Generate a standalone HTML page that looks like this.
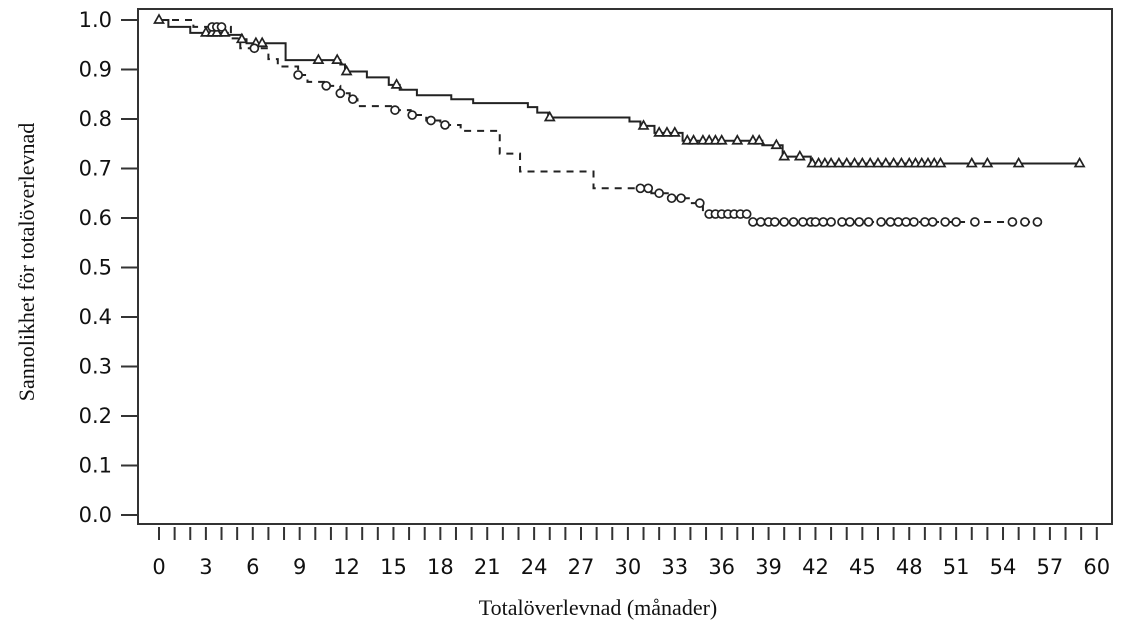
<!DOCTYPE html>
<html><head><meta charset="utf-8"><style>
html,body{margin:0;padding:0;background:#fff;}
svg{display:block}
.t{font-family:"DejaVu Sans","Liberation Sans",sans-serif;font-size:21px;fill:#111}
.s{font-family:"Liberation Serif",serif;font-size:22px;fill:#111}
</style></head><body>
<svg id="c" width="1136" height="622" viewBox="0 0 1136 622" xmlns="http://www.w3.org/2000/svg">
<rect x="138" y="9" width="974" height="515" fill="none" stroke="#333" stroke-width="2"/>
<g id="ax"></g>
<text class="s" x="598" y="615" text-anchor="middle">Totalöverlevnad (månader)</text>
<text class="s" transform="translate(34,262) rotate(-90)" text-anchor="middle">Sannolikhet för totalöverlevnad</text>
<g id="g"></g>
</svg>
<script>
var NS="http://www.w3.org/2000/svg";
function X(t){return 159+15.63*t}
function Y(s){return 515-495*s}
function el(n,a,p){var e=document.createElementNS(NS,n);for(var k in a)e.setAttribute(k,a[k]);(p||document.getElementById('g')).appendChild(e);return e}
var ax=document.getElementById('ax');
for(var i=0;i<=10;i++){var v=i/10,y=Y(v);
 el('line',{x1:121,x2:138,y1:y,y2:y,stroke:'#333','stroke-width':2},ax);
 var tx=el('text',{x:112,y:y+7,'text-anchor':'end','class':'t'},ax);tx.textContent=v.toFixed(1);}
for(var m=0;m<=60;m++){var x=X(m);
 el('line',{x1:x,x2:x,y1:527,y2:540,stroke:'#333','stroke-width':2},ax);
 if(m%3==0){var tx=el('text',{x:x,y:574,'text-anchor':'middle','class':'t'},ax);tx.textContent=m;}}
function path(st){var d='M'+X(0)+','+Y(1);
 for(var i=0;i<st.length;i++){d+=' H'+X(st[i][0])+' V'+Y(st[i][1]);}return d}
var S=[[0.6,0.986],[2,0.974],[4.4,0.97],[5.3,0.961],[5.6,0.953],[8.1,0.919],[11.6,0.91],[11.9,0.896],[13.3,0.884],[14.7,0.869],[15.4,0.859],[16.5,0.848],[18.7,0.84],[20.1,0.832],[23.6,0.824],[24.2,0.813],[24.9,0.803],[30.1,0.795],[30.8,0.786],[31.7,0.772],[33.5,0.756],[38.6,0.747],[39.9,0.724],[41.7,0.71]];
var D=[[2.2,0.986],[4.6,0.963],[5.2,0.943],[7,0.921],[7.6,0.906],[8.9,0.889],[9.5,0.875],[10.7,0.867],[11.6,0.852],[12.2,0.84],[12.7,0.826],[15,0.818],[16.1,0.808],[17.1,0.797],[18,0.788],[19.3,0.776],[21.8,0.73],[23.1,0.694],[27.8,0.66],[31.5,0.65],[32.7,0.64],[34,0.63],[34.8,0.608],[37.8,0.592]];
el('path',{d:path(S)+' H'+X(58.9),fill:'none',stroke:'#222','stroke-width':2});
el('path',{d:path(D)+' H'+X(56.2),fill:'none',stroke:'#222','stroke-width':2,'stroke-dasharray':'7,6'});
function val(st,t){var v=1;for(var i=0;i<st.length;i++)if(st[i][0]<=t)v=st[i][1];return v}
var ts=[0,3,3.4,3.7,4.2,5.3,6.2,6.6,10.2,11.4,12,15.2,25,31,32,32.5,33,33.8,34.2,34.8,35.2,35.6,36,37,38,38.4,39.5,40,41,41.8,42.2,42.6,43,43.5,44,44.5,45,45.5,46,46.5,47,47.5,48,48.4,48.8,49.2,49.6,50,52,53,55,58.9];
ts.forEach(function(t){var x=X(t),y=Y(val(S,t));
 el('path',{d:'M'+(x-4.5)+','+(y+3)+' L'+x+','+(y-5)+' L'+(x+4.5)+','+(y+3)+'Z',fill:'#fff',stroke:'#222','stroke-width':1.7});});
var tc=[3.4,3.7,4,6.1,8.9,10.7,11.6,12.4,15.1,16.2,17.4,18.3,30.8,31.3,32,32.8,33.4,34.6,35.2,35.6,36,36.4,36.8,37.2,37.6,38,38.5,39,39.4,40,40.6,41.2,41.7,42,42.5,43,43.7,44.2,44.8,45.4,46.2,46.8,47.3,47.8,48.3,49,49.5,50.3,51,52.2,54.6,55.4,56.2];
tc.forEach(function(t){el('circle',{cx:X(t),cy:Y(val(D,t)),r:4,fill:'#fff',stroke:'#222','stroke-width':1.7});});
</script>
</body></html>
